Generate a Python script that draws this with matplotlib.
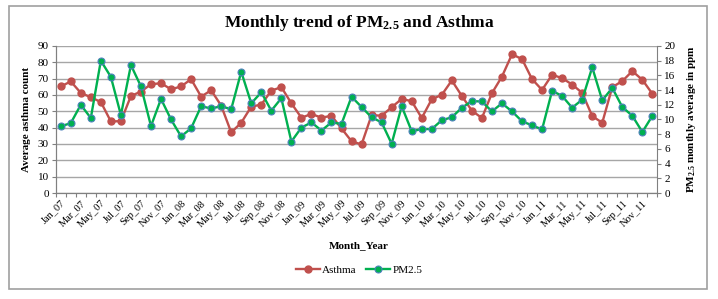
import matplotlib
matplotlib.use("Agg")
import matplotlib.pyplot as plt
from matplotlib.patches import Rectangle

plt.rcParams['font.family'] = ['Liberation Serif', 'DejaVu Serif']
plt.rcParams['mathtext.default'] = 'regular'

years = ['07', '08', '09', '10', '11']
mon = ['Jan', 'Feb', 'Mar', 'Apr', 'May', 'Jun', 'Jul', 'Aug', 'Sep', 'Oct', 'Nov', 'Dec']
months = [f"{m}_{y}" for y in years for m in mon]

asthma = [65.2, 68.3, 61.3, 58.6, 55.7, 43.8, 44.0, 59.4, 62.1, 66.6, 67.2, 63.5,
          65.2, 69.7, 59.0, 62.9, 53.5, 37.1, 43.0, 52.9, 54.1, 62.7, 64.8, 54.9,
          46.1, 48.4, 46.1, 47.3, 39.5, 31.7, 29.7, 47.7, 47.3, 52.5, 57.6, 56.2,
          45.9, 57.4, 60.1, 68.9, 59.4, 50.4, 45.9, 61.1, 71.3, 84.9, 82.0, 69.7,
          63.1, 72.4, 70.3, 66.4, 61.3, 47.1, 43.0, 64.8, 68.5, 74.6, 69.3, 60.7]

pm25 = [9.07, 9.5, 12.0, 10.2, 18.0, 15.8, 10.6, 17.4, 14.5, 9.1, 12.8, 10.0,
        7.7, 8.8, 11.8, 11.5, 11.8, 11.4, 16.5, 12.2, 13.7, 11.2, 12.9, 7.0,
        8.9, 9.6, 8.5, 9.6, 9.4, 13.1, 11.7, 10.3, 9.6, 6.7, 11.8, 8.4,
        8.7, 8.7, 9.9, 10.3, 11.6, 12.5, 12.45, 11.1, 12.2, 11.1, 9.76, 9.2,
        8.65, 13.9, 13.2, 11.6, 12.7, 17.1, 12.6, 14.3, 11.7, 10.5, 8.3, 10.5]

red = '#C0504D'
green = '#00B050'
grid_c = '#A6A6A6'

fig = plt.figure(figsize=(7.18, 2.99), dpi=100)
ax = fig.add_axes([0.0776, 0.3545, 0.8380, 0.4917])
ax2 = ax.twinx()

x = list(range(len(months)))
ax.plot(x, asthma, color=red, lw=1.7, marker='o', ms=5, mfc=red, mec=red, label='Asthma', zorder=3)
ax2.plot(x, pm25, color=green, lw=1.7, marker='o', ms=5, mfc=green, mec='#4F81BD', mew=0.8,
         label='PM2.5', zorder=3)

ax.set_xlim(-0.5, len(months) - 0.5)
ax.set_ylim(0, 90)
ax2.set_ylim(0, 20)
ax.set_yticks(range(0, 91, 10))
ax2.set_yticks(range(0, 21, 2))
ax.yaxis.grid(True, color=grid_c, lw=1)
ax.set_axisbelow(True)

ax.set_xticks([i - 0.5 for i in range(len(months) + 1)], minor=False)
ax.set_xticklabels([])
ax.set_xticks(x[::2], minor=True)
ax.set_xticklabels(months[::2], minor=True, rotation=45, ha='right', rotation_mode='anchor', fontsize=7.5)
ax.tick_params(axis='x', which='minor', length=0, pad=4)
ax.tick_params(axis='x', which='major', length=3, color='#808080', direction='out')
ax.tick_params(axis='y', labelsize=8, length=3, color='#808080', pad=2)
ax2.tick_params(axis='y', labelsize=8, length=3, color='#808080', pad=2)

for a in (ax, ax2):
    a.spines['top'].set_visible(False)
    a.spines['left'].set_color('#808080')
    a.spines['right'].set_color('#808080')
    a.spines['bottom'].set_color('#808080')
ax.spines['right'].set_visible(False)

ax.set_ylabel('Average asthma count', fontsize=8, fontweight='bold', labelpad=5)
ax2.set_ylabel(r'PM$\mathregular{_{2.5}}$ monthly average in ppm', fontsize=8, fontweight='bold', labelpad=7)

fig.text(0.5, 0.923, r'Monthly trend of PM$\mathregular{_{2.5}}$ and Asthma', ha='center', va='center',
         fontsize=12.5, fontweight='bold')
fig.text(0.5, 0.18, 'Month_Year', ha='center', va='center', fontsize=8, fontweight='bold')

h1, l1 = ax.get_legend_handles_labels()
h2, l2 = ax2.get_legend_handles_labels()
fig.legend(h1 + h2, l1 + l2, loc='center', bbox_to_anchor=(0.5, 0.097), ncol=2, frameon=False,
           fontsize=8, handlelength=2.2, columnspacing=0.8, handletextpad=0.2)

fig.patches.append(Rectangle((9 / 718, 1 - 289 / 299), (707 - 9) / 718, (289 - 6) / 299,
                             transform=fig.transFigure, fill=False, edgecolor='#A0A0A0', lw=1.2))

fig.savefig('out.png', dpi=100)
